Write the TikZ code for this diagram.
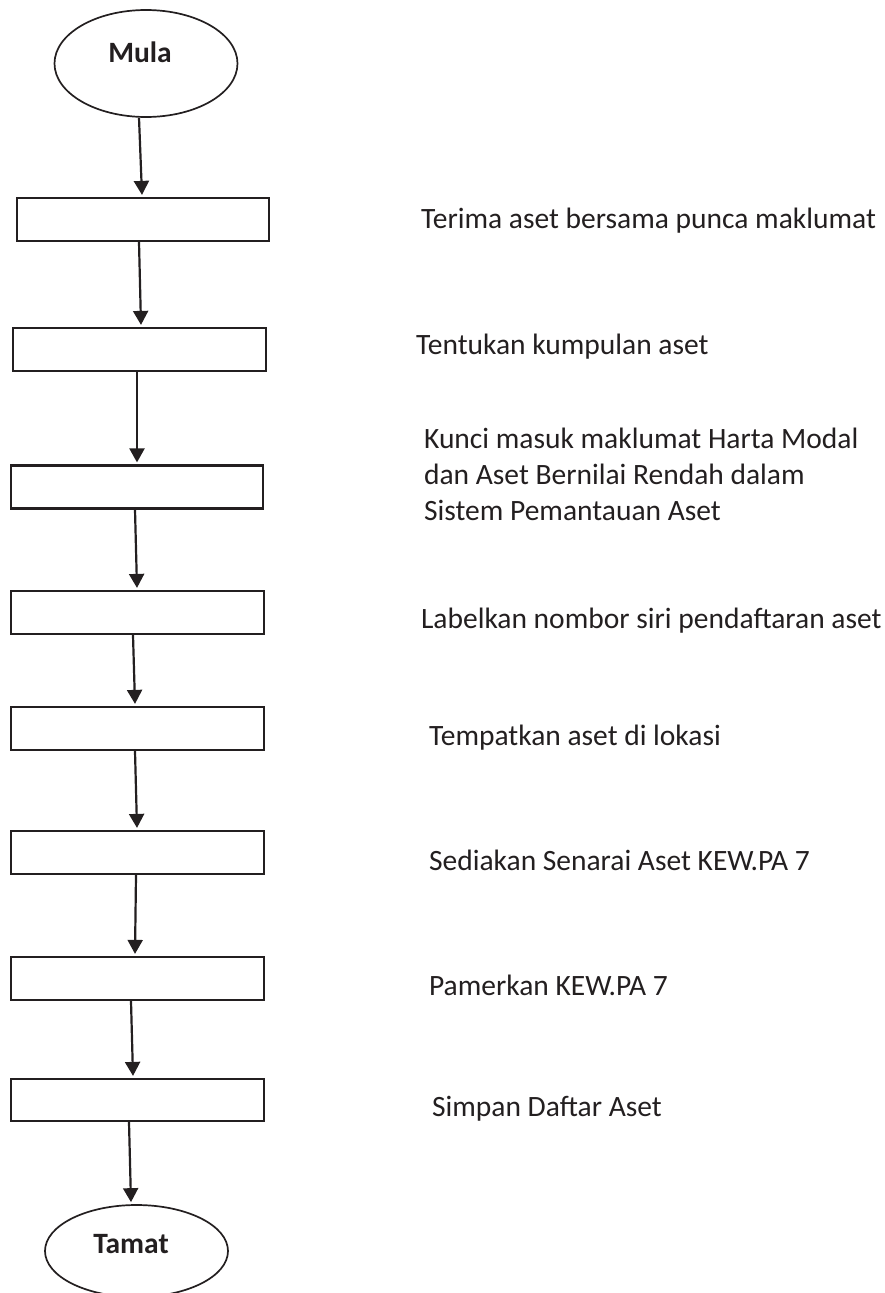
\documentclass[tikz,border=0pt]{standalone}
\usepackage{fontspec}
\setmainfont{Carlito}
\usepackage{tikz}
\usetikzlibrary{shapes.geometric,arrows.meta}
\definecolor{ink}{RGB}{35,31,32}

\begin{document}
\begin{tikzpicture}[x=1pt,y=-1pt,color=ink,line width=2.2pt,
  >={Triangle[width=15pt,length=14pt]},
  kotak/.style={draw,minimum width=252pt,minimum height=43pt,inner sep=0pt},
  bujur/.style={draw,ellipse,line width=1.7pt,minimum width=183pt,inner sep=0pt},
  teks/.style={anchor=base west,inner sep=0pt,font=\fontsize{29.5}{36}\selectfont},
  tajuk/.style={anchor=base,inner sep=0pt,font=\fontsize{29.5}{36}\selectfont\bfseries}]
\useasboundingbox (0,0) rectangle (884,1293);

\node[bujur,minimum height=107pt] (mula) at (146,63.5) {};
\node[tajuk] (mulatxt) at (140,62) {Mula};

\node[kotak] (k1) at (143,219.5) {};
\node[kotak,minimum width=253pt] (k2) at (139.5,349.5) {};
\node[kotak] (k3) at (137,487) {};
\node[kotak,minimum width=253pt] (k4) at (137.5,612.5) {};
\node[kotak,minimum width=253pt] (k5) at (137.5,728.5) {};
\node[kotak,minimum width=253pt] (k6) at (137.5,852.5) {};
\node[kotak,minimum width=253pt] (k7) at (137.5,978.5) {};
\node[kotak,minimum width=253pt,minimum height=42pt] (k8) at (137.5,1100) {};

\node[bujur,minimum height=92pt] (tamat) at (136.5,1251) {};
\node[tajuk] (tamattxt) at (131,1253) {Tamat};

\node[teks] (t1) at (420,228) {Terima aset bersama punca maklumat};
\node[teks] (t2) at (415,354) {Tentukan kumpulan aset};
\node[teks,anchor=north west,align=left] (t3) at (423,427) {Kunci masuk maklumat Harta Modal\\dan Aset Bernilai Rendah dalam\\Sistem Pemantauan Aset};
\node[teks] (t4) at (420,628) {Labelkan nombor siri pendaftaran aset};
\node[teks] (t5) at (428,745) {Tempatkan aset di lokasi};
\node[teks] (t6) at (428,870) {Sediakan Senarai Aset KEW.PA 7};
\node[teks] (t7) at (428,995) {Pamerkan KEW.PA 7};
\node[teks] (t8) at (431,1116) {Simpan Daftar Aset};

\draw[->] ([xshift=-7pt]mula.south) -- ([xshift=-1pt,yshift=2pt]k1.north);
\draw[->] ([xshift=-4pt]k1.south) -- ([xshift=1.5pt,yshift=2pt]k2.north);
\draw[->] ([xshift=-2.5pt]k2.south) -- ([yshift=2pt]k3.north);
\draw[->] ([xshift=-2pt]k3.south) -- ([xshift=-0.5pt,yshift=2pt]k4.north);
\draw[->] ([xshift=-4.5pt]k4.south) -- ([xshift=-2.5pt,yshift=2pt]k5.north);
\draw[->] ([xshift=-2.5pt]k5.south) -- ([xshift=-0.5pt,yshift=2pt]k6.north);
\draw[->] ([xshift=-1.5pt]k6.south) -- ([xshift=-2.5pt,yshift=2pt]k7.north);
\draw[->] ([xshift=-6.5pt]k7.south) -- ([xshift=-4.5pt,yshift=2pt]k8.north);
\draw[->] ([xshift=-8.5pt]k8.south) -- ([xshift=-5.5pt,yshift=2pt]tamat.north);
\end{tikzpicture}
\end{document}
